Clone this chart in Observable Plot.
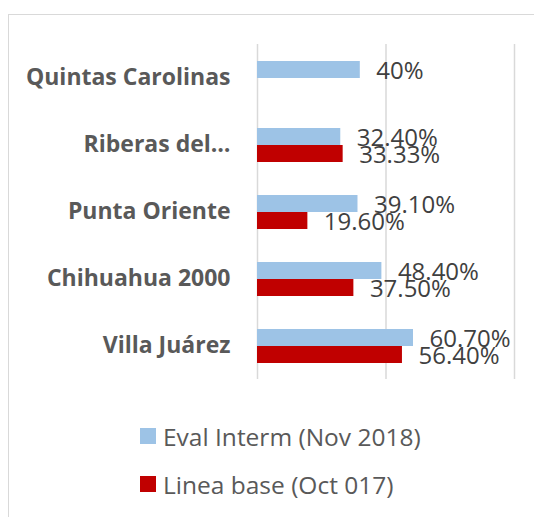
<!DOCTYPE html>
<html>
<head>
<meta charset="utf-8">
<script src="https://cdn.jsdelivr.net/npm/d3@7"></script>
<script src="https://cdn.jsdelivr.net/npm/@observablehq/plot@0.6"></script>
<style>
  html, body { margin: 0; padding: 0; background: #fff; }
  body { width: 534px; height: 517px; position: relative; overflow: hidden; font-family: "Open Sans", sans-serif; }
  #frame { position: absolute; left: 8px; top: 14px; width: 560px; height: 560px; border: 1.5px solid #d9d9d9; box-sizing: border-box; }
  #chart { position: absolute; left: 0; top: 0; }
  #legend { position: absolute; left: 140px; top: 418px; color: #595959; font-size: 24.5px; }
  .item { display: flex; align-items: center; height: 36px; margin-bottom: 12px; }
  .sw { width: 16px; height: 16px; margin-right: 7px; flex: none; }
</style>
</head>
<body>
<div id="frame"></div>
<div id="chart"></div>
<div id="legend"></div>
<script>
const categories = ["Quintas Carolinas", "Riberas del…", "Punta Oriente", "Chihuahua 2000", "Villa Juárez"];
const series = ["Eval Interm (Nov 2018)", "Linea base (Oct 017)"];
const colors = ["#9dc3e6", "#c00000"];
const evalValues = [0.40, 0.324, 0.391, 0.484, 0.607];
const evalLabels = ["40%", "32.40%", "39.10%", "48.40%", "60.70%"];
const baseValues = [null, 0.3333, 0.196, 0.375, 0.564];
const baseLabels = [null, "33.33%", "19.60%", "37.50%", "56.40%"];
const gridTicks = [0, 0.5, 1];

const rows = [];
categories.forEach((c, i) => {
  if (evalValues[i] != null) rows.push({cat: c, series: series[0], value: evalValues[i], label: evalLabels[i]});
  if (baseValues[i] != null) rows.push({cat: c, series: series[1], value: baseValues[i], label: baseLabels[i]});
});

const chart = Plot.plot({
  width: 534,
  height: 400,
  marginLeft: 257,
  marginRight: 20,
  marginTop: 43,
  marginBottom: 20,
  style: {fontFamily: "'Open Sans', sans-serif", fontSize: "23px", fontWeight: "bold", color: "#595959", background: "transparent", overflow: "visible"},
  x: {domain: [0, 1], axis: null},
  y: {domain: series, paddingInner: 0, paddingOuter: 0.926, axis: null},
  fy: {domain: categories, padding: 0, label: null, tickSize: 0, tickPadding: 27, axis: "left"},
  color: {domain: series, range: colors},
  marks: [
    Plot.ruleX(gridTicks, {stroke: "#d9d9d9", strokeWidth: 1.5}),
    Plot.barX(rows, {x: "value", y: "series", fy: "cat", fill: "series"}),
    Plot.text(rows, {x: "value", y: "series", fy: "cat", text: "label", textAnchor: "start", dx: 16, dy: 1, fontSize: 24, fontWeight: "normal", fill: "#404040"})
  ]
});
document.getElementById("chart").appendChild(chart);

const legend = document.getElementById("legend");
series.forEach((s, i) => {
  const item = document.createElement("div");
  item.className = "item";
  const sw = document.createElement("span");
  sw.className = "sw";
  sw.style.background = colors[i];
  const t = document.createElement("span");
  t.textContent = s;
  item.appendChild(sw);
  item.appendChild(t);
  legend.appendChild(item);
});
</script>
</body>
</html>
